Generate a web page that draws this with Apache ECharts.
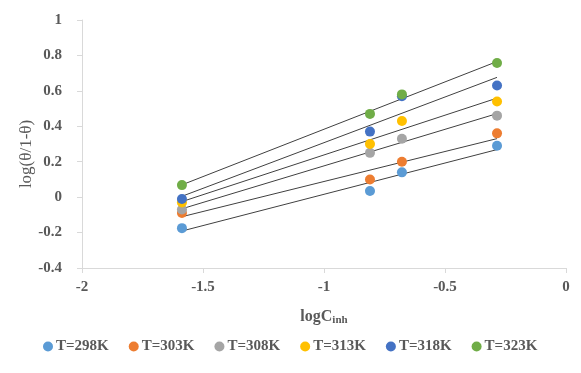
<!DOCTYPE html>
<html><head><meta charset="utf-8">
<script src="https://cdn.jsdelivr.net/npm/echarts@6/dist/echarts.min.js"></script>
<style>html,body{margin:0;padding:0;background:#fff}#c{width:581px;height:373px}</style>
</head><body><div id="c"></div>
<script>
const xValues = [-1.587, -0.81, -0.678, -0.285];
const seriesNames = ['T=298K','T=303K','T=308K','T=313K','T=318K','T=323K'];
const colors = ['#5B9BD5','#ED7D31','#A5A5A5','#FFC000','#4472C4','#70AD47'];
const y298 = [-0.175, 0.035, 0.14, 0.29];
const y303 = [-0.09, 0.10, 0.20, 0.36];
const y308 = [-0.07, 0.25, 0.33, 0.46];
const y313 = [-0.03, 0.30, 0.43, 0.54];
const y318 = [-0.01, 0.37, 0.57, 0.63];
const y323 = [0.068, 0.47, 0.58, 0.757];
const allY = [y298, y303, y308, y313, y318, y323];
const yTitle = 'log(θ/1-θ)';

function fit(xs, ys){
  const n = xs.length;
  const mx = xs.reduce((a,b)=>a+b,0)/n, my = ys.reduce((a,b)=>a+b,0)/n;
  let sxy=0, sxx=0;
  for(let i=0;i<n;i++){sxy+=(xs[i]-mx)*(ys[i]-my);sxx+=(xs[i]-mx)**2;}
  const b = sxy/sxx, a = my - b*mx;
  const x0 = Math.min(...xs), x1 = Math.max(...xs);
  return [[x0, a+b*x0],[x1, a+b*x1]];
}

const series = [];
allY.forEach((ys, i) => {
  series.push({
    type:'line', data: fit(xValues, ys), symbol:'none', silent:true,
    lineStyle:{color:'#404040', width:1}, z:1, legendHoverLink:false
  });
});
allY.forEach((ys, i) => {
  series.push({
    name: seriesNames[i], type:'scatter', symbolSize:10,
    data: xValues.map((x,j)=>[x, ys[j]]),
    itemStyle:{color: colors[i], opacity:1}, z:3
  });
});

const chart = echarts.init(document.getElementById('c'));
const labelFont = {fontFamily:'Liberation Serif', fontWeight:'bold', fontSize:15, color:'#595959'};
chart.setOption({
  animation:false,
  grid:{left:82, right:15, top:20, bottom:105},
  graphic:[{
    type:'text', x:27, y:154, rotation:Math.PI/2, silent:true,
    style:{text:yTitle, fill:'#595959', font:'17px "Liberation Serif"', textAlign:'center', textVerticalAlign:'middle'}
  }],
  legend:{
    bottom:14, left:38, itemGap:20, itemWidth:10, itemHeight:10, icon:'circle',
    data: seriesNames,
    textStyle:{fontFamily:'Liberation Serif', fontWeight:'bold', fontSize:15, color:'#595959', padding:[0,0,0,-2]}
  },
  xAxis:{
    type:'value', min:-2, max:0, interval:0.5,
    axisLine:{show:true, onZero:false, lineStyle:{color:'#D9D9D9'}},
    axisTick:{show:true, length:5, lineStyle:{color:'#D9D9D9'}},
    splitLine:{show:false},
    axisLabel:Object.assign({margin:12}, labelFont),
    name:'{a|logC}{b|inh}', nameLocation:'middle', nameGap:40,
    nameTextStyle:{rich:{
      a:{fontFamily:'Liberation Serif', fontWeight:'bold', fontSize:16, color:'#595959'},
      b:{fontFamily:'Liberation Serif', fontWeight:'bold', fontSize:11, color:'#595959', verticalAlign:'bottom', padding:[7,0,0,0]}
    }}
  },
  yAxis:{
    type:'value', min:-0.4, max:1, interval:0.2,
    axisLine:{show:true, onZero:false, lineStyle:{color:'#D9D9D9'}},
    axisTick:{show:true, length:5, lineStyle:{color:'#D9D9D9'}},
    splitLine:{show:false},
    axisLabel:Object.assign({margin:20, formatter:v=>String(Math.round(v*10)/10)}, labelFont)
  },
  series: series
});
</script></body></html>
